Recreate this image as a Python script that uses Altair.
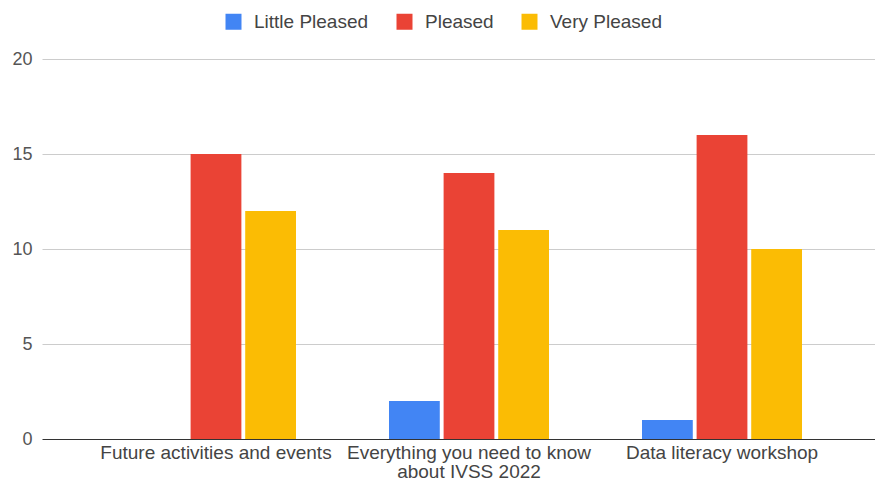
import altair as alt
import pandas as pd

categories = ["Future activities and events",
              "Everything you need to know about IVSS 2022",
              "Data literacy workshop"]
series = ["Little Pleased", "Pleased", "Very Pleased"]
little_pleased = [0, 2, 1]
pleased = [15, 14, 16]
very_pleased = [12, 11, 10]
colors = ["#4285F4", "#EA4335", "#FBBC04"]
y_ticks = [0, 5, 10, 15, 20]

rows = []
for i, c in enumerate(categories):
    for s, vals in zip(series, [little_pleased, pleased, very_pleased]):
        rows.append({"category": c, "series": s, "value": vals[i]})
df = pd.DataFrame(rows)

label_expr = ("datum.label == 'Everything you need to know about IVSS 2022' ? "
              "['Everything you need to know', 'about IVSS 2022'] : datum.label")

FONT = "Liberation Sans"

chart = alt.Chart(df).mark_bar().encode(
    x=alt.X("category:N", sort=categories, title=None,
            scale=alt.Scale(paddingInner=0.3676, paddingOuter=0.3715, range=[0, 854]),
            axis=alt.Axis(labelAngle=0, labelExpr=label_expr, domain=False, ticks=False,
                          labelPadding=4, labelFontSize=19, labelColor="#444",
                          labelFont=FONT, labelLineHeight=19, labelLimit=400)),
    xOffset=alt.XOffset("series:N", sort=series, scale=alt.Scale(paddingInner=0.07)),
    y=alt.Y("value:Q", scale=alt.Scale(domain=[0, 20]),
            axis=alt.Axis(values=y_ticks, title=None, domain=False, ticks=False,
                          labelPadding=10, labelFontSize=18, labelColor="#555",
                          labelFont=FONT,
                          gridColor={"condition": {"test": "datum.value === 0", "value": "#333"},
                                     "value": "#cccccc"})),
    color=alt.Color("series:N", sort=series,
                    scale=alt.Scale(domain=series, range=colors),
                    legend=alt.Legend(title=None, orient="none", legendX=182, legendY=-47,
                                      direction="horizontal", symbolType="square",
                                      symbolSize=256, symbolStrokeWidth=0,
                                      labelFontSize=19, labelColor="#444", labelFont=FONT,
                                      labelOffset=11, columnPadding=26, symbolOffset=0)),
).properties(
    width=833, height=380,
    autosize=alt.AutoSizeParams(type="none"),
    padding={"left": 34, "top": 51, "right": 0, "bottom": 41},
    background="white",
).configure_view(stroke=None)

chart.save("out.html", embed_options={"renderer": "svg", "actions": False})
